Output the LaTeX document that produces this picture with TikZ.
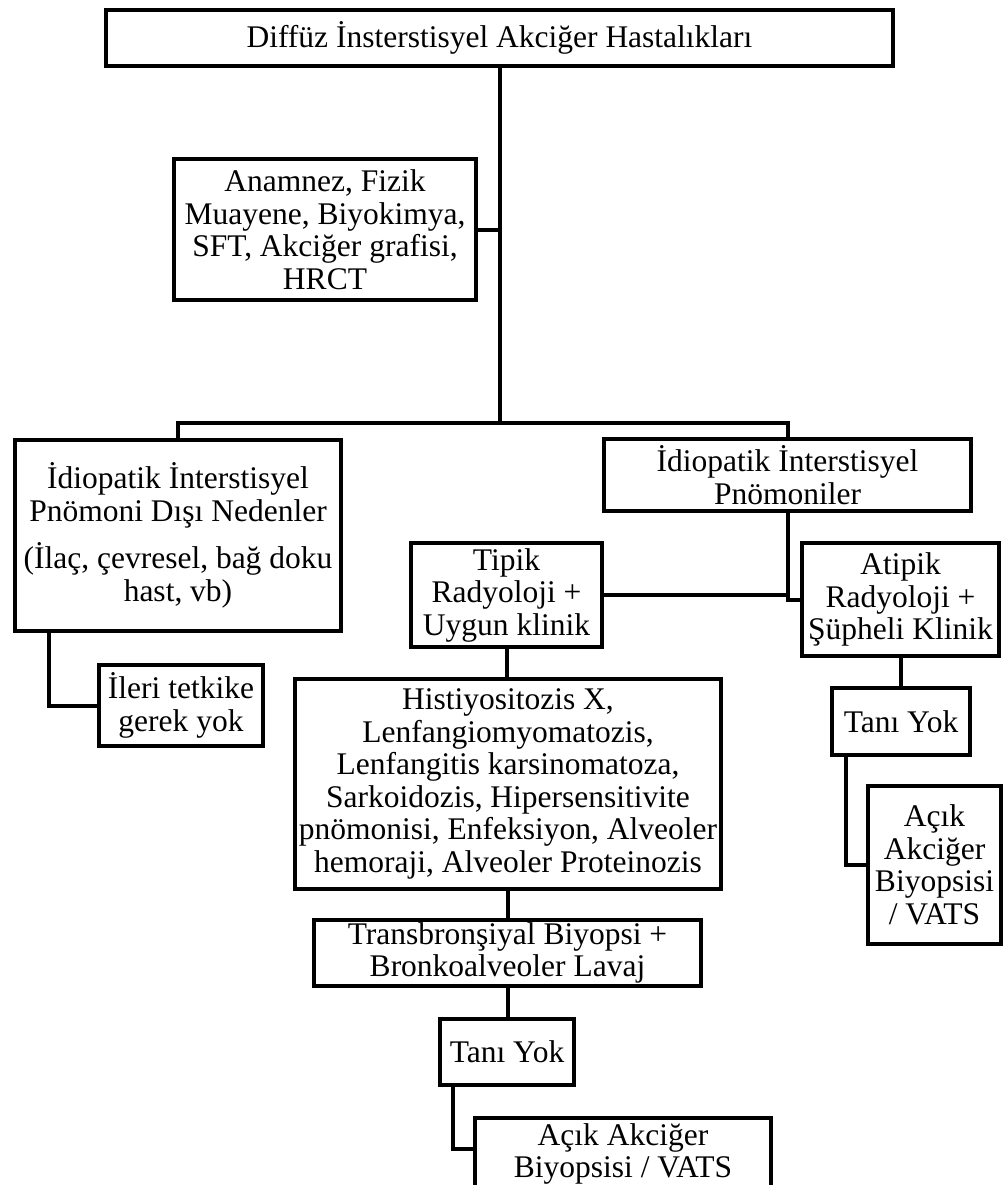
\documentclass[tikz,border=0pt]{standalone}
\usepackage{fontspec}
\setmainfont{Liberation Serif}

\tikzset{
  kutu/.style={draw, line width=4pt, inner sep=0pt, align=center, font=\fontsize{31.5}{32.5}\selectfont},
  hat/.style={line width=4pt},
}

\begin{document}
\begin{tikzpicture}[x=1pt, y=-1pt]
\useasboundingbox (0,0) rectangle (1006,1185);
\clip (0,0) rectangle (1006,1185);

% === TOP ===
\node[kutu, minimum width=787pt, minimum height=56pt] (baslik) at (499.5,38) {Diffüz İnsterstisyel Akciğer Hastalıkları};
\node[kutu, minimum width=302pt, minimum height=141pt] (anamnez) at (325,229.5) {Anamnez, Fizik\\Muayene, Biyokimya,\\SFT, Akciğer grafisi,\\HRCT};
\coordinate (catal) at (baslik.south |- 0,423);

% === LEFT BRANCH ===
\node[kutu, minimum width=326pt, minimum height=191pt] (disi) at (178,535.5) {İdiopatik İnterstisyel\\Pnömoni Dışı Nedenler\\[14pt](İlaç, çevresel, bağ doku\\hast, vb)};
\node[kutu, minimum width=164pt, minimum height=81pt] (ileri) at (181,705.5) {İleri tetkike\\gerek yok};

% === RIGHT BRANCH ===
\node[kutu, minimum width=367pt, minimum height=72pt] (iip) at (787.5,475) {İdiopatik İnterstisyel\\Pnömoniler};
\node[kutu, minimum width=191pt, minimum height=104pt] (tipik) at (506.5,595) {Tipik\\Radyoloji +\\Uygun klinik};
\node[kutu, minimum width=197pt, minimum height=113pt] (atipik) at (900.5,599.5) {Atipik\\Radyoloji +\\Şüpheli Klinik};

% typical path
\node[kutu, minimum width=426pt, minimum height=210pt] (liste) at (508,784) {Histiyositozis X,\\Lenfangiomyomatozis,\\Lenfangitis karsinomatoza,\\Sarkoidozis, Hipersensitivite\\pnömonisi, Enfeksiyon, Alveoler\\hemoraji, Alveoler Proteinozis};
\node[kutu, minimum width=387pt, minimum height=66pt] (tbb) at (507.5,953) {Transbronşiyal Biyopsi +\\Bronkoalveoler Lavaj};
\node[kutu, minimum width=134pt, minimum height=66pt] (taniA) at (507,1052) {Tanı Yok};
\node[kutu, minimum width=296pt, minimum height=72pt] (acikA) at (623,1154) {Açık Akciğer\\Biyopsisi / VATS};

% atypical path
\node[kutu, minimum width=138pt, minimum height=67pt] (taniB) at (901,721.5) {Tanı Yok};
\node[kutu, minimum width=133pt, minimum height=158pt] (acikB) at (934.5,865) {Açık\\Akciğer\\Biyopsisi\\/ VATS};

% === CONNECTORS ===
\draw[hat] (baslik) -- (catal);
\draw[hat] (anamnez.east) -- (anamnez.east -| catal);
\draw[hat] (disi.north) |- (catal) -| (iip.north);
\draw[hat] ([xshift=36pt]disi.south west) |- (ileri.west);
\draw[hat] (iip.south) |- (atipik.west);
\draw[hat] (tipik.east) -- (tipik.east -| iip.south);
\draw[hat] (tipik.south) -- (tipik.south |- liste.north);
\draw[hat] (liste.south) -- (liste.south |- tbb.north);
\draw[hat] (tbb.south) -- (tbb.south |- taniA.north);
\draw[hat] ([xshift=15pt]taniA.south west) |- ([yshift=5pt]acikA.west);
\draw[hat] (atipik.south) -- (atipik.south |- taniB.north);
\draw[hat] ([xshift=16pt]taniB.south west) |- (acikB.west);

\end{tikzpicture}
\end{document}
